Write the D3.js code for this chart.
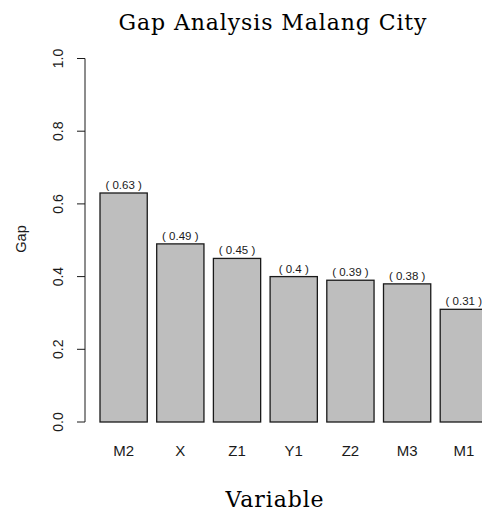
<!DOCTYPE html>
<html>
<head>
    <script src="https://cdn.jsdelivr.net/npm/d3@7"></script>
    <style>
        body { margin: 0; background: white; }
        #chart text.tick { font-family: Arial, "Liberation Sans", sans-serif; fill: #1a1a1a; }
        #chart text.title { font-family: "DejaVu Serif", serif; font-size: 22px; fill: black; letter-spacing: 0.9px; }
    </style>
</head>
<body>
<svg id="chart" width="482" height="515"></svg>
<script>
    // data
    var variables = ["M2", "X", "Z1", "Y1", "Z2", "M3", "M1"];
    var gaps = [0.63, 0.49, 0.45, 0.40, 0.39, 0.38, 0.31];
    var gapLabels = ["0.63", "0.49", "0.45", "0.4", "0.39", "0.38", "0.31"];
    var yTicks = [0, 0.2, 0.4, 0.6, 0.8, 1.0];

    var svg = d3.select("#chart");

    //scales
    var x = d3.scaleBand()
        .domain(variables)
        .range([100, 100 + 56.7 * (7 - 1/6)])
        .paddingInner(1/6)
        .paddingOuter(0);
    var y = d3.scaleLinear()
        .domain([0, 1])
        .range([422, 58.5]);

    //bars
    svg.selectAll("rect.bar")
        .data(variables)
        .enter()
        .append("rect")
        .attr("class", "bar")
        .attr("x", d => x(d))
        .attr("y", (d, i) => y(gaps[i]))
        .attr("width", x.bandwidth())
        .attr("height", (d, i) => y(0) - y(gaps[i]))
        .style("fill", "#bebebe")
        .style("stroke", "#1a1a1a")
        .style("stroke-width", 1.3);

    //value labels
    svg.selectAll("text.val")
        .data(variables)
        .enter()
        .append("text")
        .attr("class", "tick")
        .attr("x", d => x(d) + x.bandwidth() / 2)
        .attr("y", (d, i) => y(gaps[i]) - 4)
        .attr("text-anchor", "middle")
        .style("font-size", "11.5px")
        .text((d, i) => "( " + gapLabels[i] + " )");

    //y axis
    var yAxis = svg.append("g")
    yAxis.append("line")
        .attr("x1", 85).attr("x2", 85)
        .attr("y1", y(0)).attr("y2", y(1))
        .style("stroke", "#1a1a1a");
    yAxis.selectAll("line.t")
        .data(yTicks)
        .enter()
        .append("line")
        .attr("x1", 77).attr("x2", 85)
        .attr("y1", d => y(d)).attr("y2", d => y(d))
        .style("stroke", "#1a1a1a");
    yAxis.selectAll("text")
        .data(yTicks)
        .enter()
        .append("text")
        .attr("class", "tick")
        .attr("transform", d => "translate(63," + y(d) + ") rotate(-90)")
        .attr("text-anchor", "middle")
        .style("font-size", "14px")
        .text(d => d.toFixed(1));

    //x labels
    svg.selectAll("text.xl")
        .data(variables)
        .enter()
        .append("text")
        .attr("class", "tick")
        .attr("x", d => x(d) + x.bandwidth() / 2)
        .attr("y", 456)
        .attr("text-anchor", "middle")
        .style("font-size", "15px")
        .text(d => d);

    //axis titles
    svg.append("text")
        .attr("class", "tick")
        .attr("transform", "translate(25.5,239) rotate(-90)")
        .attr("text-anchor", "middle")
        .style("font-size", "14.5px")
        .text("Gap");

    svg.append("text")
        .attr("class", "title")
        .attr("x", 273)
        .attr("y", 30)
        .attr("text-anchor", "middle")
        .text("Gap Analysis Malang City");

    svg.append("text")
        .attr("class", "title")
        .attr("x", 275)
        .attr("y", 507)
        .attr("text-anchor", "middle")
        .text("Variable");
</script>
</body>
</html>
